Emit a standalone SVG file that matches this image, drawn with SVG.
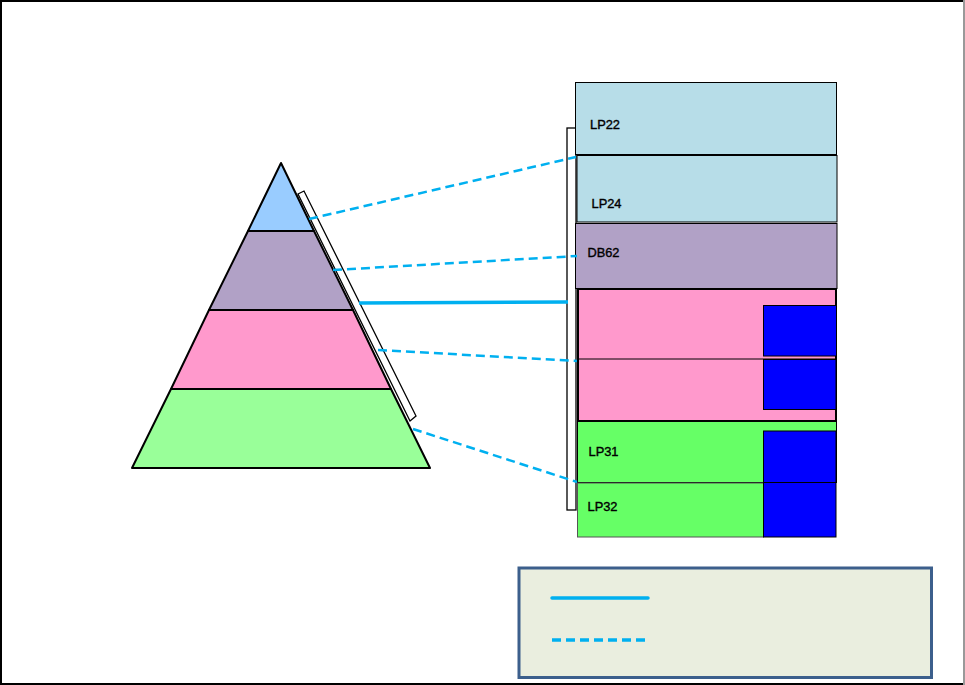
<svg xmlns="http://www.w3.org/2000/svg" width="965" height="685" viewBox="0 0 965 685">
<style>
.lbl{font-family:"Liberation Sans",Arial,sans-serif;font-size:12px;fill:#000;stroke:#000;stroke-width:0.35}
.edge{stroke:#000;stroke-width:2;stroke-linejoin:round}
.dash{fill:none;stroke:#00b0f0;stroke-width:2.5;stroke-dasharray:9,5}
.solid{fill:none;stroke:#00b0f0;stroke-width:3.5}
.box{stroke:#000;stroke-width:1}
.blk{fill:#0000ff;stroke:#000;stroke-width:1}
</style>
<rect x="0" y="0" width="965" height="685" fill="#fff"/>
<g id="frame">
<line x1="0" y1="1" x2="964" y2="1" stroke="#000" stroke-width="2"/>
<line x1="1" y1="0" x2="1" y2="685" stroke="#000" stroke-width="2"/>
<line x1="0" y1="684" x2="964" y2="684" stroke="#000" stroke-width="2"/>
<line x1="964" y1="0" x2="964" y2="685" stroke="#999" stroke-width="2"/>
</g>
<g id="pyramid">
<polygon id="layer-top" points="281,163 314,231 248,231" fill="#99ccff" class="edge"/>
<polygon id="layer-2" points="248,231 314,231 353,310 209,310" fill="#b1a1c6" class="edge"/>
<polygon id="layer-3" points="209,310 353,310 391,389 171,389" fill="#ff99cc" class="edge"/>
<polygon id="layer-4" points="171,389 391,389 430,468 132,468" fill="#99ff99" class="edge"/>
</g>
<g id="bracket-left">
<polygon points="298,194 304,191 416,416 410,421" fill="#fff" stroke="#000" stroke-width="1.3"/>
</g>
<g id="bracket-right">
<rect x="567" y="128" width="9" height="382" fill="#fff" stroke="#000" stroke-width="1.3"/>
</g>
<g id="LP22">
<rect x="575.5" y="82.5" width="261" height="72" fill="#b7dde8" class="box"/>
<text x="590" y="129" class="lbl" textLength="30" lengthAdjust="spacingAndGlyphs">LP22</text>
</g>
<g id="LP24">
<rect x="577" y="155.5" width="260" height="66.5" fill="#b7dde8" class="box"/>
<text x="591.5" y="208" class="lbl" textLength="30" lengthAdjust="spacingAndGlyphs">LP24</text>
</g>
<g id="DB62">
<rect x="575.5" y="223.5" width="261.5" height="65" fill="#b1a1c6" class="box"/>
<text x="587.5" y="257" class="lbl" textLength="32" lengthAdjust="spacingAndGlyphs">DB62</text>
</g>
<g id="pink-block">
<rect x="578" y="289" width="258" height="132" fill="#ff99cc" stroke="#000" stroke-width="2"/>
<line x1="578" y1="359" x2="836" y2="359" stroke="#000" stroke-width="1"/>
<rect x="763.5" y="305.5" width="73" height="50.5" class="blk"/>
<rect x="763.5" y="359.5" width="72.5" height="50" class="blk"/>
</g>
<g id="LP31">
<rect x="577.5" y="421.5" width="259" height="61" fill="#66ff66" class="box"/>
<rect x="763.5" y="431" width="72.5" height="51.5" class="blk" stroke-width="1.5"/>
<text x="588.5" y="456" class="lbl" textLength="30" lengthAdjust="spacingAndGlyphs">LP31</text>
</g>
<g id="LP32">
<rect x="577.5" y="483" width="186" height="54" fill="#66ff66" stroke="#555" stroke-width="1"/>
<rect x="763.5" y="482.5" width="72.5" height="54.5" class="blk" stroke-width="1.5"/>
<text x="587.5" y="511" class="lbl" textLength="30" lengthAdjust="spacingAndGlyphs">LP32</text>
</g>
<g id="connectors">
<line x1="309" y1="219" x2="576" y2="157" class="dash"/>
<line x1="333" y1="270" x2="577" y2="256" class="dash"/>
<line x1="359" y1="303" x2="568" y2="302" class="solid"/>
<line x1="378" y1="350" x2="577" y2="361" class="dash"/>
<line x1="413" y1="429" x2="577" y2="482" class="dash"/>
</g>
<g id="legend">
<rect x="519" y="568" width="412.5" height="109.5" fill="#eaeedf" stroke="#3c5f8c" stroke-width="3"/>
<line x1="552" y1="598" x2="648" y2="598" stroke="#00b0f0" stroke-width="3.5" stroke-linecap="round"/>
<line x1="552" y1="640" x2="646" y2="640" stroke="#00b0f0" stroke-width="3.5" stroke-dasharray="9,5"/>
</g>
</svg>
